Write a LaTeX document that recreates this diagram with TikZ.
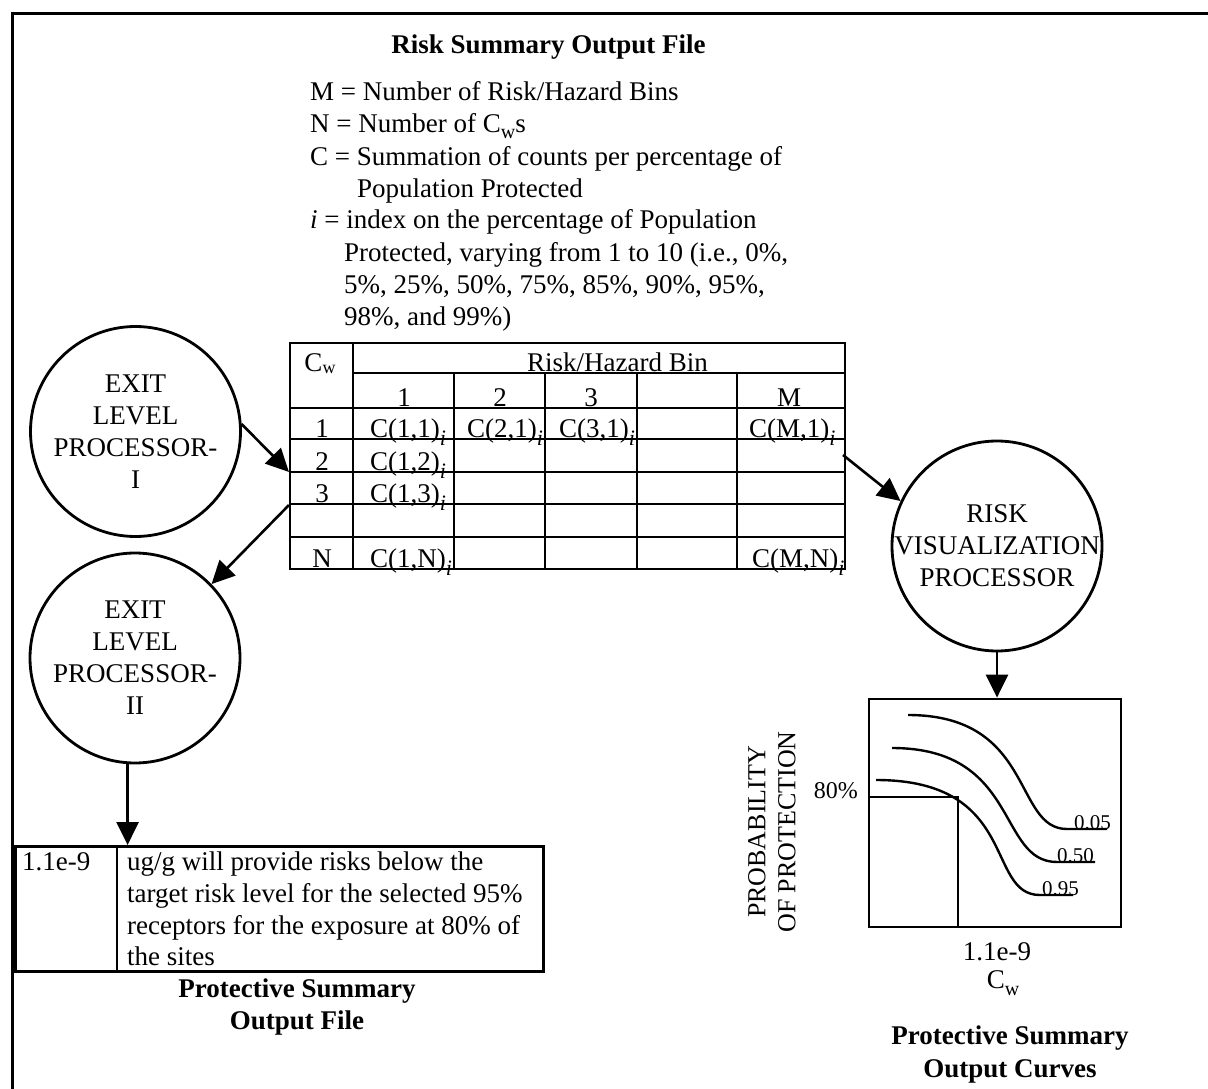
\documentclass[tikz,border=0pt]{standalone}
\usepackage{fontspec}
\setmainfont{Liberation Serif}
\usetikzlibrary{arrows.meta,calc}

% lowered subscripts as set in the text
\newcommand\subi{\raisebox{-8pt}{\fontsize{22}{22}\selectfont\itshape i}}
\newcommand\subw[2]{\raisebox{-#1}{\fontsize{#2}{#2}\selectfont w}}

\tikzset{
  txt/.style={inner sep=0pt, font=\fontsize{27}{32}\selectfont},
  boldtxt/.style={inner sep=0pt, font=\fontsize{27}{32}\selectfont\bfseries, align=center},
  smalltxt/.style={inner sep=0pt, font=\fontsize{21}{24}\selectfont},
  proc/.style={circle, draw, line width=2.8pt, minimum size=210pt, inner sep=0pt},
  proctext/.style={inner sep=0pt, align=center, font=\fontsize{27}{32}\selectfont},
  tblline/.style={line width=2.6pt},
  arr/.style={line width=2.6pt, -{Triangle[length=23pt,width=22pt]}},
  crv/.style={line width=2.4pt},
}

\begin{document}
\begin{tikzpicture}[x=1pt, y=-1pt]
\useasboundingbox (0,0) rectangle (1208,1089);

% outer frame (top and left sides)
\draw[line width=3pt] (12.7,1089) -- (12.7,13.3) -- (1208,13.3);

% heading and definitions
\node[boldtxt, anchor=base] (title) at (548.5,54) {Risk Summary Output File};
\node[txt, anchor=base west] (d1) at (310,101) {M = Number of Risk/Hazard Bins};
\node[txt, anchor=base west] (d2) at (310,133) {N = Number of C\subw{6pt}{20}s};
\node[txt, anchor=base west] (d3) at (310,165) {C = Summation of counts per percentage of};
\node[txt, anchor=base west] (d4) at (357,197) {Population Protected};
\node[txt, anchor=base west] (d5) at (310,229) {\textit{i} = index on the percentage of Population};
\node[txt, anchor=base west] (d6) at (344,261) {Protected, varying from 1 to 10 (i.e., 0\%,};
\node[txt, anchor=base west] (d7) at (344,293) {5\%, 25\%, 50\%, 75\%, 85\%, 90\%, 95\%,};
\node[txt, anchor=base west] (d8) at (344,325) {98\%, and 99\%)};

% risk summary table
\node[draw, tblline, minimum width=555pt, minimum height=226pt, inner sep=0pt] (tbl) at (567.5,456) {};
\draw[tblline] (353,343) -- (353,569);
\draw[tblline] (353,373) -- (845,373);
\foreach \yy in {408,439,472,504,537} {\draw[tblline] (290,\yy) -- (845,\yy);}
\foreach \xx in {454,545,637,737} {\draw[tblline] (\xx,373) -- (\xx,569);}

\node[txt, anchor=base] (hcw) at (320,371) {C\subw{2pt}{18}};
\node[txt, anchor=base west] (hbin) at (527,371) {Risk/Hazard Bin};
\node[txt, anchor=base] (h1) at (404,406) {1};
\node[txt, anchor=base] (h2) at (500,406) {2};
\node[txt, anchor=base] (h3) at (591,406) {3};
\node[txt, anchor=base] (hm) at (789,406) {M};

\node[txt, anchor=base] (r1) at (322,437) {1};
\node[txt, anchor=base] (r2) at (322,470) {2};
\node[txt, anchor=base] (r3) at (322,502) {3};
\node[txt, anchor=base] (rn) at (322,567) {N};

\node[txt, anchor=base west] (c11) at (370,437) {C(1,1)\subi};
\node[txt, anchor=base west] (c21) at (467,437) {C(2,1)\subi};
\node[txt, anchor=base west] (c31) at (559,437) {C(3,1)\subi};
\node[txt, anchor=base west] (cm1) at (749,437) {C(M,1)\subi};
\node[txt, anchor=base west] (c12) at (370,470) {C(1,2)\subi};
\node[txt, anchor=base west] (c13) at (370,502) {C(1,3)\subi};
\node[txt, anchor=base west] (c1n) at (370,567) {C(1,N)\subi};
\node[txt, anchor=base west] (cmn) at (752,567) {C(M,N)\subi};

% processors
\node[proc] (elp1) at (135.5,431.5) {};
\node[proctext] (elp1t) at (elp1.center) {EXIT\\LEVEL\\PROCESSOR-\\I};
\node[proc] (elp2) at (135,658) {};
\node[proctext] (elp2t) at (elp2.center) {EXIT\\LEVEL\\PROCESSOR-\\II};
\node[proc] (rvp) at (997,546) {};
\node[proctext] (rvpt) at (rvp.center) {RISK\\VISUALIZATION\\PROCESSOR};

% protective summary output file
\node[draw, tblline, minimum width=528pt, minimum height=125pt, inner sep=0pt, anchor=north west] (outbox) at (14,845) {};
\draw[tblline] (117,845) -- (117,970);
\node[txt, anchor=base west] (ovalue) at (22,870) {1.1e-9};
\node[txt, anchor=base west] (o1) at (127,870) {ug/g will provide risks below the};
\node[txt, anchor=base west] (o2) at (127,902) {target risk level for the selected 95\%};
\node[txt, anchor=base west] (o3) at (127,934) {receptors for the exposure at 80\% of};
\node[txt, anchor=base west] (o4) at (127,965) {the sites};
\node[boldtxt, anchor=base] (ocap1) at (297,997) {Protective Summary};
\node[boldtxt, anchor=base] (ocap2) at (297,1029) {Output File};

% protective summary output curves
\node[draw, line width=2.8pt, minimum width=252pt, minimum height=228pt, inner sep=0pt] (plotbox) at (995,813) {};
\draw[crv] (869,797) -- (958,797) -- (958,927);
\draw[crv] (908,715) .. controls (1035,715) and (1013,829) .. (1067,829) -- (1107,829);
\draw[crv] (892,748) .. controls (1020,748) and (997,862) .. (1057,862) -- (1095,862);
\draw[crv] (876,780) .. controls (1020,780) and (985,895) .. (1040,895) -- (1073,895);
\node[smalltxt, anchor=base west] (l05) at (1074,829) {0.05};
\node[smalltxt, anchor=base west] (l50) at (1057,862) {0.50};
\node[smalltxt, anchor=base west] (l95) at (1042,895) {0.95};
\node[inner sep=0pt, font=\fontsize{24}{28}\selectfont, anchor=base east] (p80) at (858,798) {80\%};
\node[inner sep=0pt, font=\fontsize{26}{30}\selectfont, align=center, rotate=90] (ylab) at (772,832) {PROBABILITY\\OF PROTECTION};
\node[txt, anchor=base] (xval) at (997,960) {1.1e-9};
\node[txt, anchor=base] (xlab) at (1003,988) {C\subw{7pt}{20}};
\node[boldtxt, anchor=base] (pcap1) at (1010,1044) {Protective Summary};
\node[boldtxt, anchor=base] (pcap2) at (1010,1077) {Output Curves};

% connectors
\coordinate (tblin) at (289,472);
\coordinate (tblout) at (289,505);
\coordinate (tblright) at (843,455);
\draw[arr] (elp1.4) -- (tblin);
\draw[arr] (tblout) -- (elp2.44);
\draw[arr] (tblright) -- (rvp.155);
\draw[arr] (rvp.south) -- (rvp.south |- plotbox.north);
\draw[arr] (elp2.-94) -- (elp2.-94 |- outbox.north);
\end{tikzpicture}
\end{document}
